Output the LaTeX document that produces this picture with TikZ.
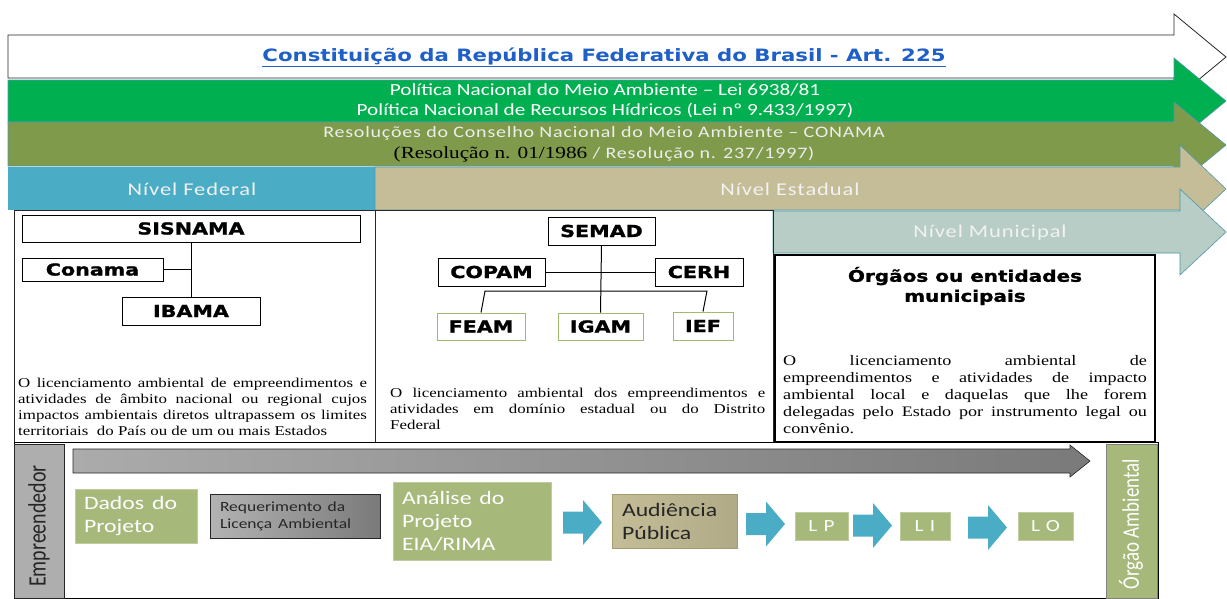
\documentclass[tikz,border=0pt]{standalone}
\usepackage{fontspec}
\usepackage{graphicx}
\setmainfont{Liberation Serif}
\newfontfamily\calibri{Carlito}
\newfontfamily\calibrisp[LetterSpace=4]{Carlito}
\newfontfamily\calibriwide[LetterSpace=30]{Carlito}
\newfontfamily\heavy{DejaVu Sans}
\newfontfamily\blackfont[FakeBold=1.2]{DejaVu Sans Bold}

\definecolor{titleblue}{HTML}{1F5FC8}
\definecolor{bandgreen}{HTML}{00B050}
\definecolor{bandolive}{HTML}{7F9A4A}
\definecolor{bandkhaki}{HTML}{C4BD97}
\definecolor{bandblue}{HTML}{4BACC6}
\definecolor{bandteal}{HTML}{B7CDC6}
\definecolor{bandedge}{HTML}{4F98A8}
\definecolor{boxgreen}{HTML}{A6B97B}
\definecolor{boxgreenedge}{HTML}{BFCCA0}
\definecolor{feamedge}{HTML}{9DBA6E}
\definecolor{khakiedge}{HTML}{A39C6C}
\definecolor{darktext}{HTML}{262626}
\definecolor{arrowlight}{HTML}{ABABAB}
\definecolor{arrowdark}{HTML}{7A7A7A}

% the slide is stretched sideways
\newcommand{\wide}[1]{\scalebox{1.25}[1]{#1}}

\tikzset{
	pics/flowarrow/.style={code={
		\fill[bandblue] (0,-11) -- (20,-11) -- (20,-22.5) -- (39,0) -- (20,22.5) -- (20,11) -- (0,11) -- cycle;
	}}
}

\begin{document}
\begin{tikzpicture}[x=1pt,y=-1pt,
		orgbox/.style={draw=black,line width=1pt,fill=white,inner sep=0pt,font=\blackfont\fontsize{16.5}{18}\selectfont},
		subbox/.style={orgbox,draw=feamedge},
		bandtext/.style={text=white,align=center,inner sep=0pt,font=\calibri\fontsize{17}{20}\selectfont},
		leveltext/.style={text=white!95!black,inner sep=0pt,font=\calibrisp\fontsize{18}{20}\selectfont},
		lawtext/.style={anchor=base west,inner sep=0pt},
		stepgreen/.style={draw=boxgreenedge,fill=boxgreen,text=white,align=left,inner ysep=0pt,font=\calibri\fontsize{19}{23}\selectfont},
		licbox/.style={draw=boxgreenedge,fill=boxgreen,text=white,inner sep=0pt,font=\calibriwide\fontsize{17}{20}\selectfont}]
	\useasboundingbox (0,0) rectangle (1227,598);

	% bands
	\draw[fill=white,draw=darktext,line width=0.8pt] (8,35) -- (1174,35) -- (1174,14) -- (1226,57) -- (1174,100) -- (1174,78) -- (8,78) -- cycle;
	\draw[fill=bandgreen,draw=bandedge,line width=0.6pt] (8,80) -- (1174,80) -- (1174,58) -- (1226,101) -- (1174,144) -- (1174,122) -- (8,122) -- cycle;
	\draw[fill=bandolive,draw=bandedge,line width=0.6pt] (8,122) -- (1174,122) -- (1174,102) -- (1226,145) -- (1174,188) -- (1174,166) -- (8,166) -- cycle;
	\fill[bandblue] (8,167) rectangle (375,210);
	\draw[fill=bandkhaki,draw=bandedge,line width=0.6pt] (375,167) -- (1180,167) -- (1180,145) -- (1226,189) -- (1180,232) -- (1180,210) -- (375,210) -- cycle;
	\draw[fill=bandteal,draw=bandedge,line width=0.6pt] (773,211) -- (1180,211) -- (1180,189) -- (1226,232) -- (1180,275) -- (1180,253) -- (773,253) -- cycle;

	\node[text=titleblue,inner sep=0pt,font=\heavy\bfseries\fontsize{17}{20}\selectfont] (constituicao) at (604,57) {\wide{\underline{Constituição da República Federativa do Brasil - Art. 225}}};
	\node[bandtext] (politicas) at (605,101) {\wide{Política Nacional do Meio Ambiente – Lei 6938/81}\\\wide{Política Nacional de Recursos Hídricos (Lei nº 9.433/1997)}};
	\node[bandtext,text=white!93!black,font=\calibrisp\fontsize{16}{21}\selectfont] (resolucoes) at (604,144) {\wide{Resoluções do Conselho Nacional do Meio Ambiente – CONAMA}\\\wide{\textcolor{black}{\rmfamily\fontsize{17}{21}\selectfont (Resolução n. 01/1986} / Resolução n. 237/1997)}};
	\node[leveltext] (federal) at (192,189) {\wide{Nível Federal}};
	\node[leveltext] (estadual) at (790,189) {\wide{Nível Estadual}};
	\node[leveltext] (municipal) at (990,233) {\wide{Nível Municipal}};

	% level boxes
	\draw[draw=darktext,line width=0.8pt] (14,210) rectangle (375,442);
	\draw[draw=darktext,line width=0.8pt] (375,210) rectangle (773,442);
	\draw[line width=1.5pt] (775,255) rectangle (1155,442);

	% federal
	\node[orgbox,minimum width=338pt,minimum height=27pt] (sisnama) at (191,228.5) {\wide{SISNAMA}};
	\node[orgbox,minimum width=141pt,minimum height=23pt] (conama) at (92.5,269.5) {\wide{Conama}};
	\node[orgbox,minimum width=138pt,minimum height=28pt] (ibama) at (191,311) {\wide{IBAMA}};
	\draw[line width=1pt] (sisnama.south) -- (ibama.north);
	\draw[line width=1pt] (conama.east) -- (conama.east -| sisnama.south);
	\node[lawtext] (fedtext) at (18,387) {\wide{\parbox[t]{279pt}{\fontsize{13.5}{16}\selectfont O licenciamento ambiental de empreendimentos e\linebreak atividades de âmbito nacional ou regional cujos\linebreak impactos ambientais diretos ultrapassem os limites\linebreak territoriais\ \ do País ou de um ou mais Estados}}};

	% estadual
	\node[orgbox,minimum width=107pt,minimum height=28pt] (semad) at (601.5,231) {\wide{SEMAD}};
	\node[orgbox,minimum width=107pt,minimum height=28pt] (copam) at (491.5,272) {\wide{COPAM}};
	\node[orgbox,minimum width=88pt,minimum height=28pt] (cerh) at (699,272) {\wide{CERH}};
	\node[subbox,minimum width=88pt,minimum height=27pt] (feam) at (481,326.5) {\wide{FEAM}};
	\node[subbox,minimum width=85pt,minimum height=27pt] (igam) at (600.5,326.5) {\wide{IGAM}};
	\node[subbox,minimum width=60pt,minimum height=28pt] (ief) at (703,326) {\wide{IEF}};
	\coordinate (busL) at (485,291);
	\coordinate (busR) at (707,291);
	\draw[line width=1pt] (semad.south) -- (igam.north);
	\draw[line width=1pt] (copam.east) -- (cerh.west);
	\draw[line width=1pt] (feam.north) -- (busL) -- (busR) -- (ief.north);
	\node[lawtext] (esttext) at (390,397) {\wide{\parbox[t]{300pt}{\fontsize{13.5}{16}\selectfont O licenciamento ambiental dos empreendimentos e\linebreak atividades em domínio estadual ou do Distrito\linebreak Federal}}};

	% municipal
	\node[align=center,inner sep=0pt,font=\blackfont\fontsize{16}{20}\selectfont] (orgaos) at (965,286) {\wide{Órgãos ou entidades}\\\wide{municipais}};
	\node[lawtext] (muntext) at (783,365) {\wide{\parbox[t]{291pt}{\fontsize{14.5}{17}\selectfont O licenciamento ambiental de\linebreak empreendimentos e atividades de impacto\linebreak ambiental local e daquelas que lhe forem\linebreak delegadas pelo Estado por instrumento legal ou\linebreak convênio.}}};

	% licensing flow
	\draw[line width=1pt] (14,442) rectangle (1158,598);
	\draw[fill=gray!85!black!55,draw=darktext,line width=0.8pt] (14,444) rectangle (64,598);
	\draw[fill=boxgreen,draw=gray,line width=0.8pt] (1106,444) rectangle (1157,598);
	\node[rotate=90,inner sep=0pt,text=darktext,font=\calibri\fontsize{20}{24}\selectfont] (empreendedor) at (39,526) {\scalebox{1}[1.25]{Empreendedor}};
	\node[rotate=90,inner sep=0pt,text=white,font=\calibri\fontsize{19}{24}\selectfont] (orgao) at (1131,524) {\scalebox{1}[1.25]{Órgão Ambiental}};
	\shadedraw[left color=arrowlight,right color=arrowdark,draw=darktext,line width=0.6pt] (73,449) -- (1070,449) -- (1070,445) -- (1090,461) -- (1070,477) -- (1070,473) -- (73,473) -- cycle;

	\node[stepgreen,inner xsep=9pt,text width=104pt,minimum height=54pt] (dados) at (136,516) {\wide{Dados do}\\\wide{Projeto}};
	\node[stepgreen,draw=darktext,left color=arrowlight!90!white,right color=arrowdark,text=darktext,inner xsep=10pt,text width=150pt,minimum height=44pt,font=\calibri\fontsize{14}{17}\selectfont] (requerimento) at (295,516) {\wide{Requerimento da}\\\wide{Licença Ambiental}};
	\node[stepgreen,inner xsep=9pt,text width=140pt,minimum height=78pt] (analise) at (472,521) {\wide{Análise do}\\\wide{Projeto}\\\wide{EIA/RIMA}};
	\node[stepgreen,draw=khakiedge,left color=bandkhaki,right color=bandkhaki!90!black,text=darktext,inner xsep=10pt,text width=105pt,minimum height=54pt] (audiencia) at (674.5,521) {\wide{Audiência}\\\wide{Pública}};
	\node[licbox,minimum width=53pt,minimum height=28pt] (lp) at (821.5,526) {\wide{LP}};
	\node[licbox,minimum width=50pt,minimum height=28pt] (li) at (925,526.5) {\wide{LI}};
	\node[licbox,minimum width=55pt,minimum height=28pt] (lo) at (1045.5,526.5) {\wide{LO}};
	\pic at (563,522.5) {flowarrow};
	\pic at (746,524) {flowarrow};
	\pic at (853,525.5) {flowarrow};
	\pic at (968,527.5) {flowarrow};
\end{tikzpicture}
\end{document}
